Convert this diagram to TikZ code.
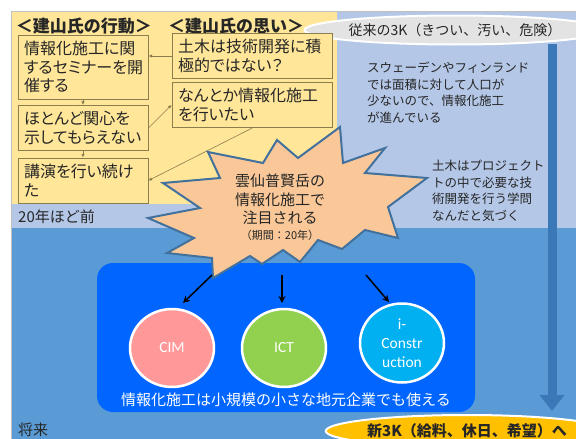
\documentclass[tikz,border=0pt]{standalone}
\usepackage{fontspec}
\setmainfont{Noto Sans CJK JP}
\newfontfamily\pjp[RawFeature=+palt]{Noto Sans CJK JP}
\newfontfamily\calib{Carlito}
\usetikzlibrary{arrows.meta,shapes.geometric}
\definecolor{ylw}{HTML}{FFE699}
\definecolor{lblue}{HTML}{B4C7E7}
\definecolor{mblue}{HTML}{5B9BD5}
\definecolor{bblue}{HTML}{0066FF}
\definecolor{boxline}{HTML}{8A7D4E}
\definecolor{txt}{HTML}{262626}
\definecolor{starfill}{HTML}{FAC898}
\definecolor{starline}{HTML}{41719C}
\definecolor{varrow}{HTML}{3A78B8}
\definecolor{cimc}{HTML}{FF9999}
\definecolor{ictc}{HTML}{92D050}
\definecolor{icc}{HTML}{00B0F0}
\definecolor{ovgray}{HTML}{E3E3E3}
\definecolor{ovyel}{HTML}{FFC000}
\begin{document}
\begin{tikzpicture}[x=1pt,y=-1pt,
  stepbox/.style={draw=boxline, fill=ylw, line width=1pt, inner sep=6pt, align=left,
    font=\pjp\fontsize{16}{18.5}\selectfont, text=txt},
  conn/.style={draw=boxline, line width=0.6pt, -{Latex[length=3.5pt,width=3.5pt]}},
  hdr/.style={font=\fontsize{17}{20}\selectfont\bfseries, text=txt},
  note/.style={align=left, font=\fontsize{12.5}{16.5}\selectfont, text=txt, inner sep=0pt},
  circ/.style={ellipse, draw=white, line width=2.5pt, inner sep=0pt, text=white,
    font=\calib\fontsize{15.5}{19}\selectfont, align=center},
  blk/.style={line width=1.5pt, -{Stealth[length=7pt,width=7pt]}},
  oval/.style={ellipse, draw=white, line width=2pt, inner sep=0pt}
]
\useasboundingbox (0,0) rectangle (576,439);
\clip (0,0) rectangle (576,439);
\fill[white] (0,0) rectangle (576,439);
% backgrounds
\fill[lblue] (12,12) rectangle (576,228);
\fill[ylw] (12,12) rectangle (337,204);
\fill[mblue] (12,228) rectangle (576,439);
\draw[black!25, line width=0.8pt] (11.5,439) -- (11.5,11.5) -- (576,11.5);

% vertical arrow
\coordinate (vt) at (552,44);
\coordinate (vb) at (552,411);
\draw[varrow, line width=9pt, -{Triangle[width=24pt,length=16pt]}] (vt) -- (vb);

% ovals
\node[oval, fill=ovgray, minimum width=232, minimum height=29,
  font=\fontsize{14}{16}\selectfont, text=txt] (old3k) at (455,30) {従来の3K（きつい、汚い、危険）};
\node[oval, fill=ovyel, minimum width=236, minimum height=32,
  font=\fontsize{15}{18}\selectfont\bfseries, text=txt] (new3k) at (467,431) {新3K（給料、休日、希望）へ};

% right notes
\node[note, anchor=north west] (sweden) at (367,62) {スウェーデンやフィンランド\\では面積に対して人口が\\少ないので、情報化施工\\が進んでいる};
\node[note, anchor=north west] (doboku) at (432,160) {土木はプロジェクト\\トの中で必要な技\\術開発を行う学問\\なんだと気づく};

% period labels
\node[anchor=west, inner sep=0pt, font=\fontsize{15}{18}\selectfont, text=txt] (before) at (18,217) {20年ほど前};
\node[anchor=west, inner sep=0pt, font=\fontsize{15}{18}\selectfont, text=txt] (future) at (18,430) {将来};

% headers
\node[hdr] (h1) at (84,26) {＜建山氏の行動＞};
\node[hdr] (h2) at (236,26) {＜建山氏の思い＞};

% left boxes
\node[stepbox, text width=118, minimum height=64] (b1) at (83,67) {情報化施工に関\\するセミナーを開\\催する};
\node[stepbox, text width=118, minimum height=44] (b2) at (83,128) {ほとんど関心を\\示してもらえない};
\node[stepbox, text width=118, minimum height=45] (b3) at (83,180.5) {講演を行い続け\\た};
% right boxes
\node[stepbox, text width=148, minimum height=44] (bA) at (252,56) {土木は技術開発に積\\極的ではない？};
\node[stepbox, text width=148, minimum height=44] (bB) at (252,105) {なんとか情報化施工\\を行いたい};

\draw[conn] (bA.west) -- (bA.west -| b1.east);
\draw[conn] (b1.south) -- (b2.north);
\draw[conn] (b2.south) -- (b3.north);
\draw[conn] (b2.east) -- (bB.west);
\draw[conn] (bB.south) -- (b3.east);

% blue group
\node[fill=bblue, rounded corners=16pt, minimum width=378, minimum height=149, inner sep=0pt] (grp) at (286,337.5) {};
\node[circ, fill=cimc, minimum width=84, minimum height=78] (cim) at (172,348) {CIM};
\node[circ, fill=ictc, minimum width=84, minimum height=78] (ict) at (284,348) {ICT};
\node[circ, fill=icc, minimum width=84, minimum height=79] (icon) at (402,343) {i-\\Constr\\uction};
\node[text=white, font=\fontsize{15}{18}\selectfont, inner sep=0pt] (small) at (286,400) {情報化施工は小規模の小さな地元企業でも使える};

% starburst
\draw[fill=starfill, draw=starline, line width=2pt, line join=miter]
  (340,127) -- (343,163) -- (385,148) -- (365,173) -- (427,178) -- (388,207) -- (398,238)
  -- (365,230) -- (342,249) -- (318,240) -- (300,262) -- (283,250) -- (262,264) -- (250,256)
  -- (213,278) -- (212,258) -- (167,253) -- (194,238) -- (148,218) -- (200,208) -- (163,183)
  -- (220,178) -- (208,152) -- (263,163) -- (277,140) -- (298,158) -- cycle;
\node[align=center, text=txt, font=\fontsize{15}{18.5}\selectfont, inner sep=0pt] (star) at (280,207)
  {雲仙普賢岳の\\情報化施工で\\注目される\\[-3pt]{\fontsize{11}{13}\selectfont （期間：20年）}};

\coordinate (s1) at (212,275);
\coordinate (s2) at (282,275);
\coordinate (s3) at (366,275);
\coordinate (e1) at (183,303);
\coordinate (e2) at (282,303);
\coordinate (e3) at (389,302);
\draw[blk] (s1) -- (e1);
\draw[blk] (s2) -- (e2);
\draw[blk] (s3) -- (e3);
\end{tikzpicture}
\end{document}
